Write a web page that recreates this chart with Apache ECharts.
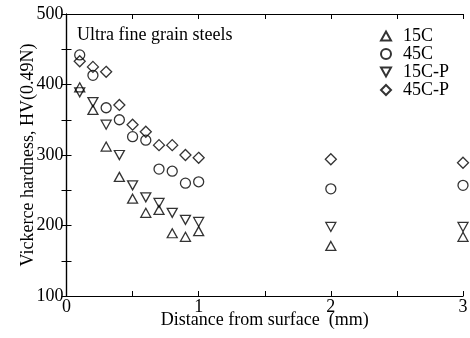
<!DOCTYPE html>
<html>
<head>
<meta charset="utf-8">
<script src="https://cdn.jsdelivr.net/npm/echarts@6/dist/echarts.min.js"></script>
<style>html,body{margin:0;padding:0;background:#fff}#c{width:470px;height:338px}</style>
</head>
<body>
<div id="c"></div>
<script>
var distances = [0.1, 0.2, 0.3, 0.4, 0.5, 0.6, 0.7, 0.8, 0.9, 1.0, 2, 3];
var hv15C   = [396, 364, 312, 269, 238, 218, 222, 189, 184, 192, 171, 184];
var hv45C   = [442, 413, 367, 350, 326, 321, 280, 277, 260, 262, 252, 257];
var hv15CP  = [389, 375, 343, 300, 257, 240, 232, 218, 208, 205, 198, 198];
var hv45CP  = [433, 425, 418, 371, 343, 333, 314, 314, 300, 296, 294, 289];
var seriesNames = ['15C', '45C', '15C-P', '45C-P'];
var xTickLabels = ['0', '1', '2', '3'];
var yTickLabels = ['100', '200', '300', '400', '500'];

var FONT = 'Liberation Serif, Times New Roman, serif';
function pairs(ys){ return distances.map(function(x,i){ return [x, ys[i]]; }); }
var downTri = 'path://M0,0 L10,0 L5,9 Z';
var upTri = 'path://M5,0 L10,9 L0,9 Z';
var symbols = [upTri, 'circle', downTri, 'diamond'];
var sizes = [[10,9],[10,10],[10,9],[11,11]];
var data = [hv15C, hv45C, hv15CP, hv45CP];

var chart = echarts.init(document.getElementById('c'), null, {renderer:'canvas'});
var axisCommon = {
  axisLine:{show:true, lineStyle:{color:'#000', width:1.2}},
  axisTick:{show:true, inside:true, length:5, lineStyle:{color:'#000', width:1}},
  splitLine:{show:false}
};
function xAx(pos, showLabel){
  return Object.assign({}, axisCommon, {
    type:'value', position:pos, min:0, max:3, interval:0.5,
    axisLabel:{show:showLabel, color:'#000', fontFamily:FONT, fontSize:18, margin:2,
      formatter:function(v){ return (v % 1 === 0) ? xTickLabels[v] : ''; }},
    name: showLabel ? 'Distance from surface  (mm)' : '',
    nameLocation:'middle', nameGap:15, nameMoveOverlap:false,
    nameTextStyle:{color:'#000', fontFamily:FONT, fontSize:18}
  });
}
function yAx(pos, showLabel){
  return Object.assign({}, axisCommon, {
    type:'value', position:pos, min:100, max:500, interval:50,
    axisLabel:{show:showLabel, color:'#000', fontFamily:FONT, fontSize:18, margin:3,
      formatter:function(v){ return (v % 100 === 0) ? yTickLabels[(v-100)/100] : ''; }},
    name: showLabel ? 'Vickerce hardness, HV(0.49N)' : '',
    nameLocation:'middle', nameGap:29, nameRotate:90, nameMoveOverlap:false,
    nameTextStyle:{color:'#000', fontFamily:FONT, fontSize:18}
  });
}
var series = seriesNames.map(function(n, i){
  return {
    name:n, type:'scatter', xAxisIndex:0, yAxisIndex:0,
    symbol:symbols[i], symbolSize:sizes[i],
    itemStyle:{color:'rgba(255,255,255,0)', borderColor:'#000', borderWidth:1.3},
    emphasis:{disabled:true},
    data:pairs(data[i])
  };
});
chart.setOption({
  animation:false,
  backgroundColor:'#fff',
  grid:{left:66.5, right:7, top:14, bottom:42, containLabel:false, outerBoundsMode:'none'},
  xAxis:[xAx('bottom', true), xAx('top', false)],
  yAxis:[yAx('left', true), yAx('right', false)],
  legend:{
    orient:'vertical', left:375, top:22, itemGap:0,
    itemWidth:10, itemHeight:10,
    textStyle:{color:'#000', fontFamily:FONT, fontSize:18, lineHeight:17, padding:[0,0,0,7]},
    data:seriesNames.map(function(n,i){ return {name:n, icon:symbols[i]}; })
  },
  graphic:[{
    type:'text', left:77, top:26,
    style:{text:'Ultra fine grain steels', fill:'#000', font:'18px ' + FONT}
  }],
  series:series
});
</script>
</body>
</html>
